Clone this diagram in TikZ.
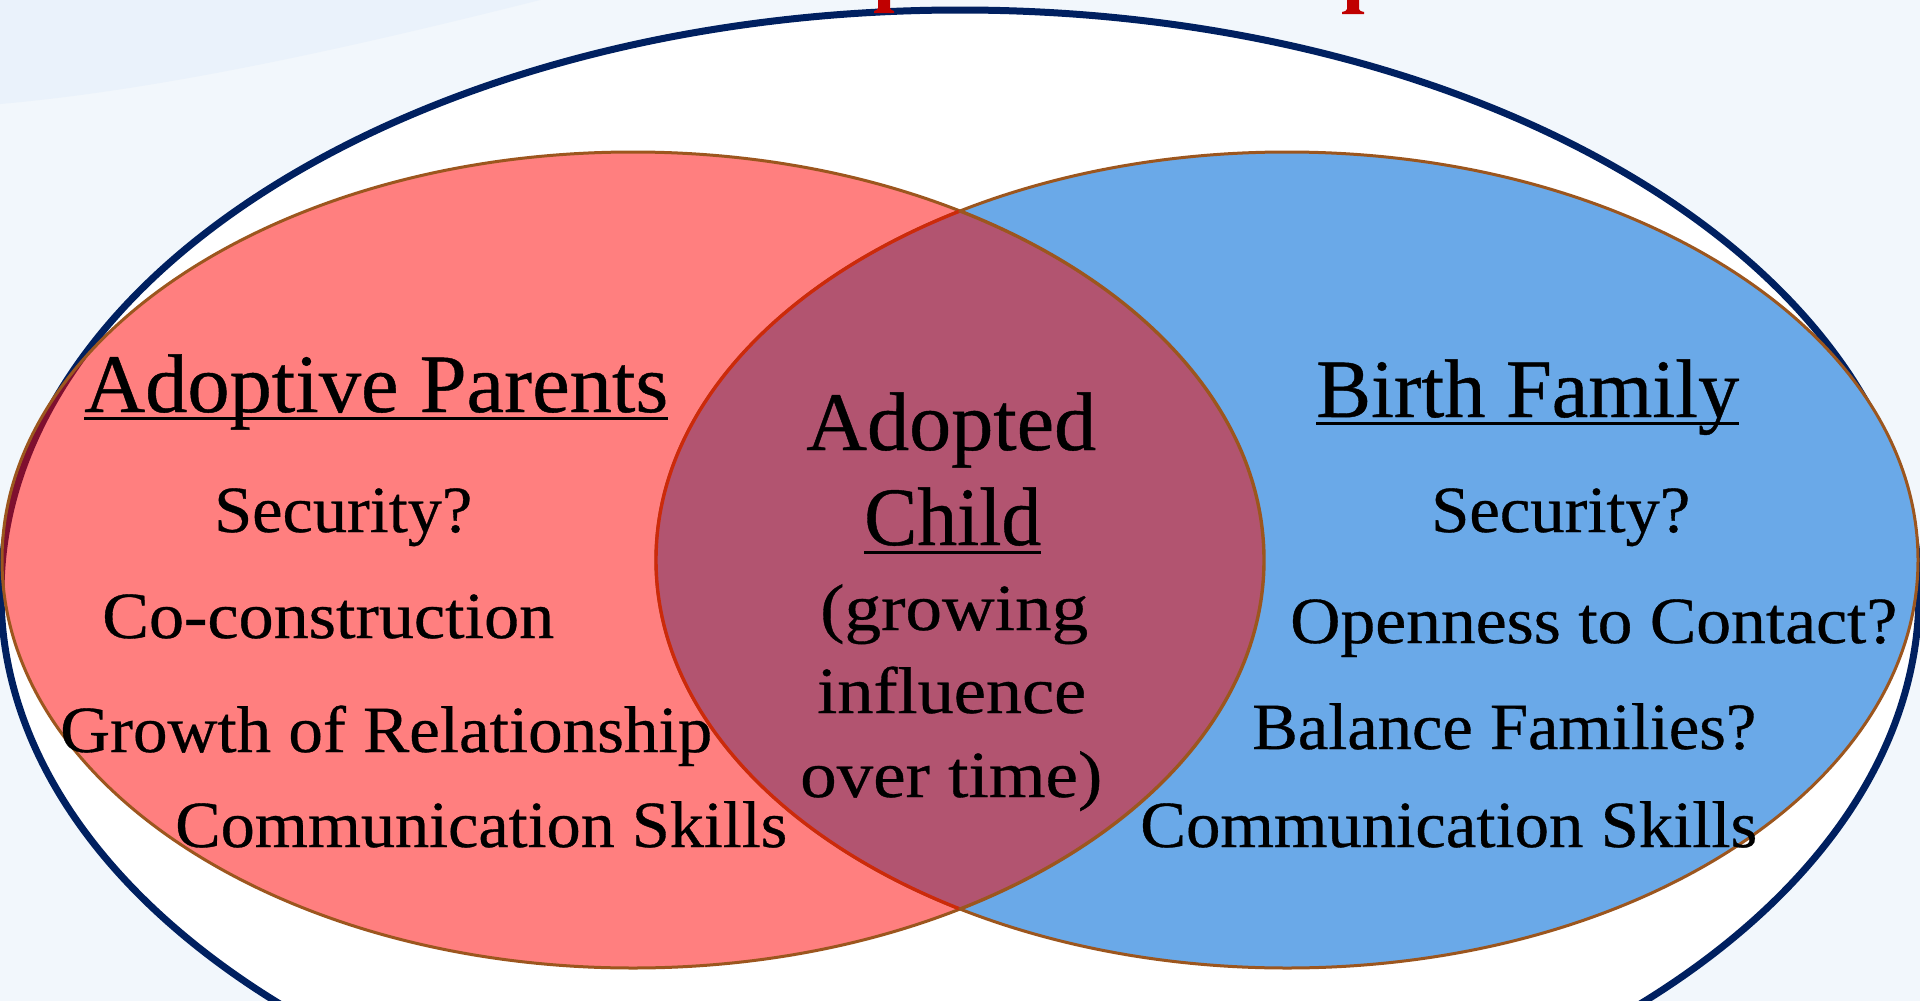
\documentclass[tikz,border=0pt]{standalone}
\usepackage{fontspec}
\setmainfont[FakeBold=0.5]{Liberation Serif}
\usepackage{graphicx}

\definecolor{pagebg}{HTML}{F2F7FC}
\definecolor{swoosh}{HTML}{EAF2FB}
\definecolor{navyline}{HTML}{002060}
\definecolor{rimbrown}{HTML}{9C561E}
\definecolor{parentred}{HTML}{FF0000}
\definecolor{familyblue}{HTML}{6AA9E8}
\definecolor{childpurple}{HTML}{B25470}
\definecolor{childedge}{HTML}{CC2A0A}
\definecolor{titlered}{HTML}{C00000}

% fixed-width line of text, natural height kept
\newcommand\fitline[2]{\resizebox{#1pt}{\height}{#2}}

\tikzset{
  head/.style={anchor=base west, inner sep=0pt, font=\fontsize{83}{90}\selectfont},
  item/.style={anchor=base west, inner sep=0pt, font=\fontsize{66}{72}\selectfont},
  uline/.style={line width=3pt, black},
}

\begin{document}
\begin{tikzpicture}[x=1pt, y=-1pt]
  \useasboundingbox (0,0) rectangle (1920,1001);
  \clip (0,0) rectangle (1920,1001);

  % page background with a soft swoosh in the corner
  \fill[pagebg] (0,0) rectangle (1920,1001);
  \fill[swoosh] (0,0) -- (540,0) .. controls (350,48) and (160,90) .. (0,104) -- cycle;

  % outer frame
  \draw[navyline, line width=7pt, fill=white] (960,593) ellipse [x radius=959pt, y radius=583pt];

  % adoptive parents (translucent red)
  \draw[rimbrown, line width=3pt, fill=parentred, fill opacity=0.5]
    (633,560) ellipse [x radius=631pt, y radius=408pt];

  % birth family
  \draw[rimbrown, line width=3pt, fill=familyblue]
    (1287,560) ellipse [x radius=631pt, y radius=408pt];

  % adopted child: the overlap
  \begin{scope}
    \clip (633,560) ellipse [x radius=631pt, y radius=408pt];
    \fill[childpurple] (1287,560) ellipse [x radius=631pt, y radius=408pt];
    \draw[childedge, line width=3.4pt] (1287,560) ellipse [x radius=631pt, y radius=408pt];
  \end{scope}
  \begin{scope}
    \clip (1287,560) ellipse [x radius=631pt, y radius=408pt];
    \draw[rimbrown, line width=3.4pt] (633,560) ellipse [x radius=631pt, y radius=408pt];
  \end{scope}

  % descenders of the heading above
  \fill[titlered] (878,0) -- (890,0) -- (890,8) .. controls (891,10) .. (894,11)
    -- (894,13) -- (874,13) -- (874,11) .. controls (877,10) .. (878,8) -- cycle;
  \fill[titlered] (1347,0) -- (1359,0) -- (1359,9) .. controls (1360,11) .. (1364,12)
    -- (1364,14) -- (1342,14) -- (1342,12) .. controls (1346,11) .. (1347,9) -- cycle;

  % left set
  \node[head] (apHead) at (84,412) {\fitline{584}{Adoptive Parents}};
  \draw[uline] ([yshift=-6pt]apHead.base west) -- ([yshift=-6pt]apHead.base east);
  \node[item] (apSec)  at (214,532) {\fitline{258}{Security?}};
  \node[item] (apCo)   at (102,638) {\fitline{452}{Co-construction}};
  \node[item] (apGrow) at (60,752)  {\fitline{652}{Growth of Relationship}};
  \node[item] (apComm) at (175,847) {\fitline{612}{Communication Skills}};

  % overlap
  \node[head] (acTop)  at (806,450) {\fitline{290}{Adopted}};
  \node[head] (acName) at (864,545) {\fitline{177}{Child}};
  \draw[uline] ([yshift=-7pt]acName.base west) -- ([yshift=-7pt]acName.base east);
  \node[item] (acGrow) at (820,630) {\fitline{268}{(growing}};
  \node[item] (acInfl) at (817,713) {\fitline{269}{influence}};
  \node[item] (acTime) at (800,797) {\fitline{302}{over time)}};

  % right set
  \node[head] (bfHead) at (1316,417) {\fitline{423}{Birth Family}};
  \draw[uline] ([yshift=-6pt]bfHead.base west) -- ([yshift=-6pt]bfHead.base east);
  \node[item] (bfSec)  at (1431,532) {\fitline{259}{Security?}};
  \node[item] (bfOpen) at (1290,643) {\fitline{607}{Openness to Contact?}};
  \node[item] (bfBal)  at (1252,749) {\fitline{504}{Balance Families?}};
  \node[item] (bfComm) at (1140,847) {\fitline{617}{Communication Skills}};
\end{tikzpicture}
\end{document}
